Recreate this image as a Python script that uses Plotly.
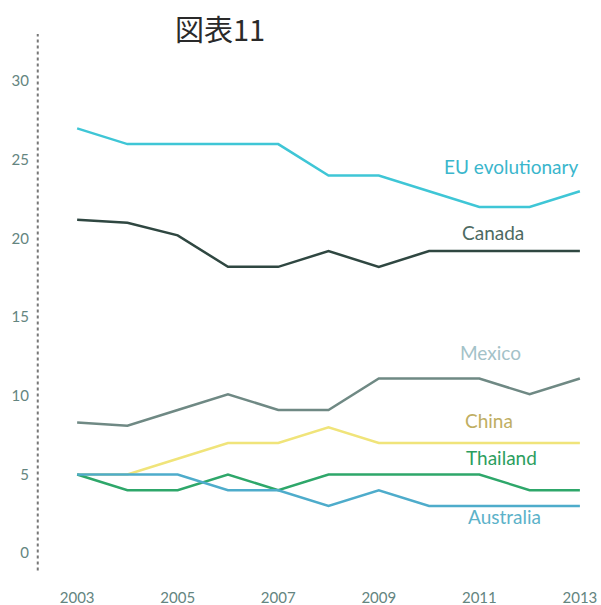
import plotly.graph_objs as go

years = list(range(2003, 2014))

eu = [27, 26, 26, 26, 26, 24, 24, 23, 22, 22, 23]
canada = [21.2, 21, 20.2, 18.2, 18.2, 19.2, 18.2, 19.2, 19.2, 19.2, 19.2]
mexico = [8.3, 8.1, 9.1, 10.1, 9.1, 9.1, 11.1, 11.1, 11.1, 10.1, 11.1]
china = [5, 5, 6, 7, 7, 8, 7, 7, 7, 7, 7]
thailand = [5, 4, 4, 5, 4, 5, 5, 5, 5, 4, 4]
australia = [5, 5, 5, 4, 4, 3, 4, 3, 3, 3, 3]

series = [
    ("EU evolutionary", eu, "#3fc6d6", "#3ab6cc"),
    ("Canada", canada, "#2f4741", "#4d6a62"),
    ("Mexico", mexico, "#6f8984", "#a3c2c8"),
    ("China", china, "#f0e47a", "#bfae62"),
    ("Thailand", thailand, "#2ea76a", "#2b9e5e"),
    ("Australia", australia, "#4eaccb", "#5cb2c9"),
]

fig = go.Figure()
for name, vals, color, lab_color in series:
    fig.add_trace(go.Scatter(x=years, y=vals, mode="lines", name=name,
                             line=dict(color=color, width=2.5)))

# series labels to the right
label_x = {"EU evolutionary": 2011.62, "Canada": 2011.28, "Mexico": 2011.22,
           "China": 2011.2, "Thailand": 2011.45, "Australia": 2011.5}
label_y = {"EU evolutionary": 24.6, "Canada": 20.4, "Mexico": 12.75,
           "China": 8.4, "Thailand": 6.05, "Australia": 2.3}
annotations = []
for name, vals, color, lab_color in series:
    annotations.append(dict(x=label_x[name], y=label_y[name], xref="x", yref="y",
                            text=name, showarrow=False,
                            font=dict(family="Lato", size=19, color=lab_color)))

# title
annotations.append(dict(xref="paper", yref="paper", x=0.307, y=1.011,
                        xanchor="center", yanchor="middle",
                        text="図表11", showarrow=False,
                        font=dict(family="Noto Sans CJK JP", size=29, color="#2a2a2a")))

fig.update_layout(
    annotations=annotations,
    showlegend=False,
    width=601, height=605,
    margin=dict(l=52, r=1, t=34, b=33),
    paper_bgcolor="white", plot_bgcolor="white",
    xaxis=dict(range=[2002.5, 2013.4], tickvals=[2003, 2005, 2007, 2009, 2011, 2013],
               showgrid=False, zeroline=False, showline=False, automargin=False,
               ticklabelstandoff=15,
               tickfont=dict(family="Lato", size=15, color="#648580")),
    yaxis=dict(range=[-1.2, 33], tickvals=[0, 5, 10, 15, 20, 25, 30],
               showgrid=False, zeroline=False, showline=False, automargin=False,
               ticklabelstandoff=22,
               tickfont=dict(family="Lato", size=15, color="#648580")),
    shapes=[dict(type="line", xref="paper", yref="y", x0=-0.026, x1=-0.026,
                 y0=-1.1, y1=33, line=dict(color="#777777", width=2, dash="dot"))],
)

# drop the default 8px page margin so the figure fills the window
fig.write_html("out.html", config={"displayModeBar": False},
               post_script="document.body.style.margin='0px';")
